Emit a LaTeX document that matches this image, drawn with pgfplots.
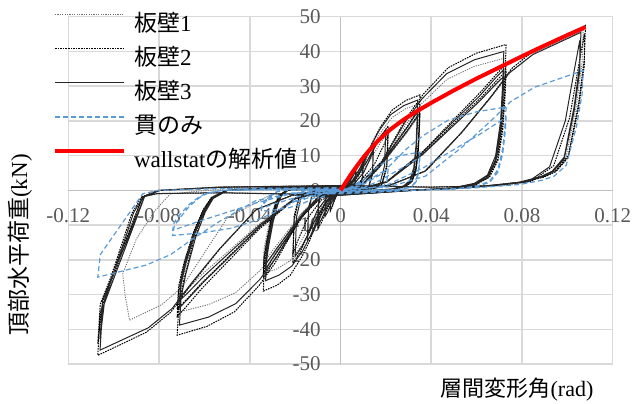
\documentclass[border=0pt]{standalone}
\usepackage{fontspec}
\setmainfont{Liberation Serif}
\newfontfamily\cjk{Noto Sans CJK JP}
\usepackage{pgfplots}
\pgfplotsset{compat=1.18}
\definecolor{tickgray}{HTML}{595959}
\definecolor{gridgray}{HTML}{D9D9D9}
\definecolor{axgray}{HTML}{BFBFBF}
\definecolor{blueline}{HTML}{5B9BD5}
\begin{document}
\begin{tikzpicture}
\path[use as bounding box] (0,0) rectangle (316pt,201.5pt);
\begin{axis}[
  at={(34.15pt,19.5pt)}, anchor=south west,
  scale only axis, width=272.2pt, height=173.65pt,
  xmin=-0.12, xmax=0.12, ymin=-50, ymax=50,
  axis lines=middle,
  every inner x axis line/.append style={-},
  every inner y axis line/.append style={-},
  axis line style={axgray, line width=0.75pt},
  hide obscured x ticks=false, hide obscured y ticks=false,
  xtick={-0.12,-0.08,-0.04,0,0.04,0.08,0.12},
  xticklabels={-0.12,-0.08,-0.04,0,0.04,0.08,0.12},
  ytick={-50,-40,-30,-20,-10,0,10,20,30,40,50},
  yticklabels={-50,-40,-30,-20,-10,0,10,20,30,40,50},
  major tick length=0pt,
  grid=major, grid style={gridgray, line width=0.75pt},
  tick label style={font=\fontsize{10.5}{12}\selectfont, text=tickgray, inner sep=0pt},
  xticklabel style={anchor=center, yshift=-12.5pt},
  yticklabel style={anchor=east, xshift=-9.75pt},
  legend style={at={(-0.0281,1.031)}, anchor=north west, draw=none, fill=none,
    font=\fontsize{11.5}{13}\selectfont, inner sep=0pt, outer sep=0pt,
    row sep=0pt, column sep=4pt,
    nodes={inner sep=0pt, text height=12.9pt, text depth=4.1pt}},
  legend cell align=left,
  legend image code/.code={\draw[#1] (0pt,4pt) -- (34.5pt,4pt);},
]
% 板壁1
\addplot[color=black!55, line width=0.45pt, dash pattern=on 0.6pt off 0.6pt] coordinates {
(0,0) (0.003,1.35) (0.006,4.5) (0.0085,7.65) (0.01,9) (0.0097,3.6) (0.0085,0.54) (0.005,0) (0,-0.27) (-0.003,-1.43) (-0.006,-4.75) (-0.0085,-8.1) (-0.01,-9.5) (-0.0097,-3.8) (-0.0085,-0.57) (-0.005,0) (0,0.29)
(0.0063,2.5) (0.0126,8.25) (0.0179,14) (0.021,16.5) (0.0204,6.6) (0.0179,1) (0.0105,0) (0,-0.5) (-0.0063,-2.7) (-0.0126,-9) (-0.0179,-15.3) (-0.021,-18) (-0.0204,-7.2) (-0.0179,-1.1) (-0.0105,0) (0,0.54)
(0.0042,1.25) (0.00875,5) (0.014,12.5) (0.0175,16.5) (0.02275,21) (0.0287,23.5) (0.035,25) (0.0348,20) (0.0343,12.5) (0.03325,6.25) (0.0315,2.75) (0.0287,1.25) (0.0238,0.38) (0.014,0) (0,-0.75) (-0.0041,-1.2) (-0.0085,-4.8) (-0.0136,-12) (-0.017,-15.8) (-0.0221,-20.2) (-0.0279,-22.6) (-0.034,-24) (-0.0337,-19.2) (-0.0326,-14.9) (-0.0306,-8.4) (-0.0286,-3.8) (-0.0269,-1.44) (-0.0238,0) (-0.0136,0.48) (0,0.72)
(0.00525,0.55) (0.0098,1.5) (0.0175,6.8) (0.0245,12.6) (0.02975,17) (0.03325,20.3) (0.035,21.8) (0.0348,17.4) (0.0343,10.9) (0.03325,5.45) (0.0315,2.4) (0.0287,1.1) (0.0238,0.33) (0.014,0) (0,-0.65) (-0.0051,-0.53) (-0.0095,-1.47) (-0.017,-6.5) (-0.0238,-12.2) (-0.0289,-16.4) (-0.0323,-19.5) (-0.034,-21) (-0.0337,-16.8) (-0.0326,-13) (-0.0306,-7.35) (-0.0286,-3.4) (-0.0269,-1.26) (-0.0238,0) (-0.0136,0.42) (0,0.63)
(0.0086,1.9) (0.018,7.6) (0.0288,19) (0.036,25.1) (0.0468,31.9) (0.059,35.7) (0.072,38) (0.0716,30.4) (0.0706,19) (0.0684,9.5) (0.0648,4.2) (0.059,1.9) (0.049,0.57) (0.0288,0) (0,-1.14) (-0.0085,-1.75) (-0.01775,-7) (-0.0284,-17.5) (-0.0355,-23.1) (-0.04615,-29.4) (-0.0582,-32.9) (-0.071,-35) (-0.0703,-28) (-0.0682,-21.7) (-0.0639,-12.25) (-0.0596,-5.6) (-0.0561,-2.1) (-0.0497,0) (-0.0284,0.7) (0,1.05)
(0.0108,0.83) (0.0202,2.3) (0.036,10.2) (0.0504,19.1) (0.0612,25.7) (0.0684,30.7) (0.072,33) (0.0716,26.4) (0.0706,16.5) (0.0684,8.25) (0.0648,3.6) (0.059,1.65) (0.049,0.5) (0.0288,0) (0,-1) (-0.01065,-0.76) (-0.0199,-2.1) (-0.0355,-9.5) (-0.0497,-17.7) (-0.06035,-23.8) (-0.06745,-28.4) (-0.071,-30.5) (-0.0703,-24.4) (-0.0682,-18.9) (-0.0639,-10.7) (-0.0596,-4.9) (-0.0561,-1.8) (-0.0497,0) (-0.0284,0.61) (0,0.92)
(0.0214,1.4) (0.03745,5.5) (0.0535,16.6) (0.0663,26.7) (0.0749,34) (0.0856,39.6) (0.0963,42.8) (0.107,46) (0.1065,36.8) (0.104,24.4) (0.0995,9.7) (0.0942,5.5) (0.0888,3.9) (0.0792,2.3) (0.0589,0.9) (0.0321,0) (0,-1.4) (-0.03,-1) (-0.05,-8) (-0.062,-20) (-0.07,-28) (-0.079,-33) (-0.087,-35.5) (-0.093,-37.4) (-0.095,-30) (-0.096,-24) (-0.09,-14) (-0.082,-6) (-0.075,-1) (-0.05,0.5) (0,1)
};
\addlegendentry{{\cjk 板壁}1}
% 板壁2
\addplot[color=black, line width=0.5pt, dash pattern=on 0.8pt off 0.5pt] coordinates {
(0,0) (0.00135,0.75) (0.0027,2.5) (0.0038,4.25) (0.0045,5) (0.0044,2) (0.0038,0.3) (0.0023,0) (0,-0.15) (-0.00135,-0.9) (-0.0027,-3) (-0.0038,-5.1) (-0.0045,-6) (-0.0044,-2.4) (-0.0038,-0.36) (-0.0023,0) (0,0.18)
(0.003,1.5) (0.006,5) (0.0085,8.5) (0.01,10) (0.0097,4) (0.0085,0.6) (0.005,0) (0,-0.3) (-0.003,-1.65) (-0.006,-5.5) (-0.0085,-9.35) (-0.01,-11) (-0.0097,-4.4) (-0.0085,-0.66) (-0.005,0) (0,0.33)
(0.004,1.3) (0.007,3.9) (0.009,7) (0.01,8.7) (0.0097,3.5) (0.0085,0.5) (0.005,0) (0,-0.26) (-0.004,-1.44) (-0.007,-4.3) (-0.009,-7.7) (-0.01,-9.6) (-0.0097,-3.8) (-0.0085,-0.6) (-0.005,0) (0,0.3)
(0.0063,2.8) (0.0126,9.25) (0.0179,15.7) (0.021,18.5) (0.0204,7.4) (0.0179,1.1) (0.0105,0) (0,-0.55) (-0.0063,-3.15) (-0.0126,-10.5) (-0.0179,-17.85) (-0.021,-21) (-0.0204,-8.4) (-0.0179,-1.26) (-0.0105,0) (0,0.63)
(0.0084,2.4) (0.0147,7.2) (0.0189,12.8) (0.021,16) (0.0204,6.4) (0.0179,1) (0.0105,0) (0,-0.5) (-0.0084,-2.75) (-0.0147,-8.2) (-0.0189,-14.6) (-0.021,-18.3) (-0.0204,-7.3) (-0.0179,-1.1) (-0.0105,0) (0,0.55)
(0.0042,1.4) (0.00875,5.5) (0.014,13.75) (0.0175,18.15) (0.02275,23.1) (0.0287,25.85) (0.035,27.5) (0.0348,22) (0.0343,13.75) (0.03325,6.9) (0.0315,3) (0.0287,1.4) (0.0238,0.4) (0.014,0) (0,-0.8) (-0.0041,-1.45) (-0.0085,-5.8) (-0.0136,-14.5) (-0.017,-19.1) (-0.0221,-24.4) (-0.0279,-27.3) (-0.034,-29) (-0.0337,-23.2) (-0.0326,-18) (-0.0306,-10.15) (-0.0286,-4.65) (-0.0269,-1.75) (-0.0238,0) (-0.0136,0.6) (0,0.9)
(0.00525,0.6) (0.0098,1.7) (0.0175,7.45) (0.0245,13.9) (0.02975,18.7) (0.03325,22.3) (0.035,24) (0.0348,19.2) (0.0343,12) (0.03325,6) (0.0315,2.65) (0.0287,1.2) (0.0238,0.36) (0.014,0) (0,-0.7) (-0.0051,-0.63) (-0.0095,-1.76) (-0.017,-7.8) (-0.0238,-14.6) (-0.0289,-19.7) (-0.0323,-23.4) (-0.034,-25.2) (-0.0337,-20.2) (-0.0326,-15.6) (-0.0306,-8.8) (-0.0286,-4) (-0.0269,-1.5) (-0.0238,0) (-0.0136,0.5) (0,0.75)
(0.00525,0.56) (0.0098,1.6) (0.0175,7) (0.0245,13) (0.02975,17.5) (0.03325,20.9) (0.035,22.5) (0.0348,18) (0.0343,11.25) (0.03325,5.6) (0.0315,2.5) (0.0287,1.1) (0.0238,0.34) (0.014,0) (0,-0.7) (-0.0051,-0.6) (-0.0095,-1.67) (-0.017,-7.4) (-0.0238,-13.8) (-0.0289,-18.6) (-0.0323,-22.1) (-0.034,-23.8) (-0.0337,-19) (-0.0326,-14.8) (-0.0306,-8.3) (-0.0286,-3.8) (-0.0269,-1.4) (-0.0238,0) (-0.0136,0.48) (0,0.71)
(0.00876,2.1) (0.01825,8.4) (0.0292,21) (0.0365,27.7) (0.04745,35.3) (0.05986,39.5) (0.073,42) (0.0726,33.6) (0.0715,21) (0.0694,10.5) (0.0657,4.6) (0.0599,2.1) (0.0496,0.63) (0.0292,0) (0,-1.26) (-0.00864,-2.1) (-0.018,-8.3) (-0.0288,-20.85) (-0.036,-27.5) (-0.0468,-35) (-0.059,-39.2) (-0.072,-41.7) (-0.0713,-33.4) (-0.0691,-25.9) (-0.0648,-14.6) (-0.0605,-6.7) (-0.0569,-2.5) (-0.0504,0) (-0.0288,0.83) (0,1.25)
(0.01095,0.9) (0.02044,2.55) (0.0365,11.3) (0.0511,21.2) (0.06205,28.5) (0.06935,33.9) (0.073,36.5) (0.0726,29.2) (0.0715,18.25) (0.0694,9.1) (0.0657,4) (0.0599,1.8) (0.0496,0.55) (0.0292,0) (0,-1.1) (-0.0108,-0.9) (-0.02016,-2.5) (-0.036,-11.25) (-0.0504,-21) (-0.0612,-28.3) (-0.0684,-33.8) (-0.072,-36.3) (-0.0713,-29) (-0.0691,-22.5) (-0.0648,-12.7) (-0.0605,-5.8) (-0.0569,-2.2) (-0.0504,0) (-0.0288,0.73) (0,1.1)
(0.01095,0.86) (0.02044,2.4) (0.0365,10.7) (0.0511,20) (0.06205,26.8) (0.06935,32) (0.073,34.4) (0.0726,27.5) (0.0715,17.2) (0.0694,8.6) (0.0657,3.8) (0.0599,1.7) (0.0496,0.5) (0.0292,0) (0,-1) (-0.0108,-0.86) (-0.02016,-2.4) (-0.036,-10.6) (-0.0504,-19.8) (-0.0612,-26.7) (-0.0684,-31.8) (-0.072,-34.2) (-0.0713,-27.4) (-0.0691,-21.2) (-0.0648,-12) (-0.0605,-5.5) (-0.0569,-2) (-0.0504,0) (-0.0288,0.68) (0,1)
(0.0216,1.4) (0.0378,5.7) (0.054,17.1) (0.067,27.55) (0.0756,35.15) (0.0864,40.85) (0.0972,44.2) (0.108,47.5) (0.1075,38) (0.105,25.2) (0.1004,10) (0.095,5.7) (0.0896,4) (0.0799,2.4) (0.0594,0.95) (0.0324,0) (0,-1.4) (-0.0214,-1.4) (-0.03745,-5.7) (-0.0535,-17.1) (-0.0663,-27.55) (-0.0749,-35.15) (-0.0856,-40.85) (-0.0963,-44.2) (-0.107,-47.5) (-0.1059,-35.15) (-0.1011,-26.6) (-0.0963,-18) (-0.0915,-9.5) (-0.0872,-1.9) (-0.0803,0) (-0.0535,0.95) (0,1.4)
(0.04,0.95) (0.0702,1.4) (0.0842,2.6) (0.094,7.1) (0.101,20.9) (0.1048,35.15) (0.1075,45.1) (0.1075,36) (0.105,23.9) (0.1004,9.5) (0.095,5.4) (0.0896,3.8) (0.0799,2.25) (0.0594,0.9) (0.0324,0) (0,-1.35) (-0.0535,-0.7) (-0.0813,-0.95) (-0.0877,-1.9) (-0.092,-6.65) (-0.0958,-14.25) (-0.1006,-23.75) (-0.1049,-32.3) (-0.107,-44.2) (-0.1059,-32.7) (-0.1011,-24.75) (-0.0963,-16.8) (-0.0915,-8.85) (-0.0872,-1.77) (-0.0803,0) (-0.0535,0.9) (0,1.3)
};
\addlegendentry{{\cjk 板壁}2}
% 板壁3
\addplot[color=black!85, line width=0.5pt] coordinates {
(0,0) (0.00135,0.68) (0.0027,2.25) (0.0038,3.8) (0.0045,4.5) (0.0044,1.8) (0.0038,0.27) (0.0023,0) (0,-0.14) (-0.00135,-0.83) (-0.0027,-2.75) (-0.0038,-4.7) (-0.0045,-5.5) (-0.0044,-2.2) (-0.0038,-0.33) (-0.0023,0) (0,0.17)
(0.002,1) (0.0041,3.25) (0.0058,5.5) (0.0068,6.5) (0.0066,2.6) (0.0058,0.4) (0.0034,0) (0,-0.2) (-0.002,-1.1) (-0.0041,-3.75) (-0.0058,-6.4) (-0.0068,-7.5) (-0.0066,-3) (-0.0058,-0.45) (-0.0034,0) (0,0.22)
(0.003,1.43) (0.006,4.75) (0.0085,8.1) (0.01,9.5) (0.0097,3.8) (0.0085,0.57) (0.005,0) (0,-0.29) (-0.003,-1.5) (-0.006,-5) (-0.0085,-8.5) (-0.01,-10) (-0.0097,-4) (-0.0085,-0.6) (-0.005,0) (0,0.3)
(0.0044,1.95) (0.0087,6.5) (0.0123,11) (0.0145,13) (0.0141,5.2) (0.0123,0.8) (0.0073,0) (0,-0.4) (-0.0044,-2.2) (-0.0087,-7.25) (-0.0123,-12.3) (-0.0145,-14.5) (-0.0141,-5.8) (-0.0123,-0.87) (-0.0073,0) (0,0.43)
(0.0058,1.7) (0.0102,5.1) (0.013,9) (0.0145,11.3) (0.0141,4.5) (0.0123,0.7) (0.0073,0) (0,-0.34) (-0.0058,-1.9) (-0.0102,-5.7) (-0.013,-10.1) (-0.0145,-12.6) (-0.0141,-5) (-0.0123,-0.76) (-0.0073,0) (0,0.38)
(0.006,2.6) (0.012,8.75) (0.017,14.9) (0.02,17.5) (0.0194,7) (0.017,1.05) (0.01,0) (0,-0.5) (-0.006,-2.85) (-0.012,-9.5) (-0.017,-16.15) (-0.02,-19) (-0.0194,-7.6) (-0.017,-1.14) (-0.01,0) (0,0.57)
(0.0041,1.3) (0.0085,5.2) (0.0136,13) (0.017,17.2) (0.0221,21.8) (0.0279,24.4) (0.034,26) (0.0338,20.8) (0.0333,13) (0.0323,6.5) (0.0306,2.9) (0.0279,1.3) (0.0231,0.4) (0.0136,0) (0,-0.8) (-0.004,-1.3) (-0.00825,-5.2) (-0.0132,-13) (-0.0165,-17.2) (-0.02145,-21.8) (-0.0271,-24.4) (-0.033,-26) (-0.0327,-20.8) (-0.0317,-16.1) (-0.0297,-9.1) (-0.0277,-4.2) (-0.0261,-1.6) (-0.0231,0) (-0.0132,0.5) (0,0.8)
(0.0051,0.57) (0.0095,1.6) (0.017,7) (0.0238,13.1) (0.0289,17.6) (0.0323,21) (0.034,22.6) (0.0338,18.1) (0.0333,11.3) (0.0323,5.65) (0.0306,2.5) (0.0279,1.1) (0.0231,0.34) (0.0136,0) (0,-0.68) (-0.005,-0.57) (-0.0092,-1.6) (-0.0165,-7) (-0.0231,-13.1) (-0.028,-17.6) (-0.0314,-21) (-0.033,-22.6) (-0.0327,-18.1) (-0.0317,-14) (-0.0297,-7.9) (-0.0277,-3.6) (-0.0261,-1.36) (-0.0231,0) (-0.0132,0.45) (0,0.68)
(0.0051,0.53) (0.0095,1.5) (0.017,6.6) (0.0238,12.35) (0.0289,16.6) (0.0323,19.8) (0.034,21.3) (0.0338,17) (0.0333,10.65) (0.0323,5.3) (0.0306,2.3) (0.0279,1.07) (0.0231,0.32) (0.0136,0) (0,-0.64) (-0.005,-0.53) (-0.0092,-1.5) (-0.0165,-6.6) (-0.0231,-12.35) (-0.028,-16.6) (-0.0314,-19.8) (-0.033,-21.3) (-0.0327,-17) (-0.0317,-13.2) (-0.0297,-7.5) (-0.0277,-3.4) (-0.0261,-1.3) (-0.0231,0) (-0.0132,0.43) (0,0.64)
(0.0086,2) (0.018,8) (0.0288,20) (0.036,26.4) (0.0468,33.6) (0.059,37.6) (0.072,40) (0.0716,32) (0.0706,20) (0.0684,10) (0.0648,4.4) (0.059,2) (0.049,0.6) (0.0288,0) (0,-1.2) (-0.0085,-1.94) (-0.01775,-7.76) (-0.0284,-19.4) (-0.0355,-25.6) (-0.04615,-32.6) (-0.0582,-36.5) (-0.071,-38.8) (-0.0703,-31) (-0.0682,-24.1) (-0.0639,-13.6) (-0.0596,-6.2) (-0.0561,-2.3) (-0.0497,0) (-0.0284,0.78) (0,1.16)
(0.0108,0.87) (0.0202,2.4) (0.036,10.8) (0.0504,20.2) (0.0612,27.1) (0.0684,32.4) (0.072,34.8) (0.0716,27.8) (0.0706,17.4) (0.0684,8.7) (0.0648,3.8) (0.059,1.74) (0.049,0.52) (0.0288,0) (0,-1.04) (-0.01065,-0.85) (-0.0199,-2.37) (-0.0355,-10.5) (-0.0497,-19.6) (-0.06035,-26.4) (-0.06745,-31.4) (-0.071,-33.8) (-0.0703,-27) (-0.0682,-21) (-0.0639,-11.8) (-0.0596,-5.4) (-0.0561,-2) (-0.0497,0) (-0.0284,0.68) (0,1)
(0.0108,0.82) (0.0202,2.3) (0.036,10.2) (0.0504,19) (0.0612,25.6) (0.0684,30.5) (0.072,32.8) (0.0716,26.2) (0.0706,16.4) (0.0684,8.2) (0.0648,3.6) (0.059,1.64) (0.049,0.5) (0.0288,0) (0,-1) (-0.01065,-0.8) (-0.0199,-2.2) (-0.0355,-9.9) (-0.0497,-18.4) (-0.06035,-24.8) (-0.06745,-29.6) (-0.071,-31.8) (-0.0703,-25.4) (-0.0682,-19.7) (-0.0639,-11.1) (-0.0596,-5.1) (-0.0561,-1.9) (-0.0497,0) (-0.0284,0.64) (0,0.95)
(0.0212,1.37) (0.0371,5.46) (0.053,16.4) (0.0657,26.4) (0.0742,33.7) (0.0848,39.1) (0.0954,42.3) (0.106,45.5) (0.1055,36.4) (0.103,24.1) (0.0986,9.55) (0.0933,5.5) (0.088,3.9) (0.0784,2.3) (0.0583,0.9) (0.0318,0) (0,-1.37) (-0.0212,-1.4) (-0.0371,-5.5) (-0.053,-16.6) (-0.0657,-26.7) (-0.0742,-34) (-0.0848,-39.6) (-0.0954,-42.8) (-0.106,-46) (-0.1049,-34) (-0.1002,-25.8) (-0.0954,-17.5) (-0.0906,-9.2) (-0.0864,-1.84) (-0.0795,0) (-0.053,0.92) (0,1.38)
(0.0392,0.9) (0.0689,1.37) (0.0827,2.5) (0.0922,6.8) (0.0991,20) (0.1028,33.7) (0.1055,43.2) (0.1055,34.4) (0.103,22.8) (0.0986,9) (0.0933,5.2) (0.088,3.7) (0.0784,2.15) (0.0583,0.86) (0.0318,0) (0,-1.3) (-0.053,-0.69) (-0.0806,-0.92) (-0.0869,-1.84) (-0.0912,-6.4) (-0.0949,-13.8) (-0.0996,-23) (-0.1039,-31.3) (-0.106,-42.8) (-0.1049,-31.7) (-0.1002,-24) (-0.0954,-16.3) (-0.0906,-8.6) (-0.0864,-1.7) (-0.0795,0) (-0.053,0.86) (0,1.28)
};
\addlegendentry{{\cjk 板壁}3}
% 貫のみ
\addplot[color=blueline, line width=0.6pt, dash pattern=on 2.5pt off 1.5pt] coordinates {
(0,0) (0.003,0.45) (0.006,1.5) (0.0085,2.55) (0.01,3) (0.0097,1.2) (0.0085,0.18) (0.005,0) (0,-0.09) (-0.003,-0.38) (-0.006,-1.25) (-0.0085,-2.1) (-0.01,-2.5) (-0.0097,-1) (-0.0085,-0.15) (-0.005,0) (0,0.08)
(0.0063,0.9) (0.0126,3) (0.0179,5.1) (0.021,6) (0.0204,2.4) (0.0179,0.36) (0.0105,0) (0,-0.18) (-0.0063,-0.5) (-0.0126,-1.75) (-0.0179,-3) (-0.021,-3.5) (-0.0204,-1.4) (-0.0179,-0.2) (-0.0105,0) (0,0.1)
(0.0042,0.55) (0.00875,2.2) (0.014,5.5) (0.0175,7.3) (0.02275,9.2) (0.0287,10.3) (0.035,11) (0.0348,8.8) (0.0343,5.5) (0.03325,2.75) (0.0315,1.2) (0.0287,0.55) (0.0238,0.17) (0.014,0) (0,-0.33) (-0.0042,-0.3) (-0.00875,-1.2) (-0.014,-3) (-0.0175,-4) (-0.02275,-5) (-0.0287,-5.6) (-0.035,-6) (-0.0347,-4.8) (-0.0336,-3.7) (-0.0315,-2.1) (-0.0294,-1) (-0.0277,-0.36) (-0.0245,0) (-0.014,0.12) (0,0.18)
(0.00525,0.24) (0.0098,0.67) (0.0175,2.9) (0.0245,5.5) (0.02975,7.4) (0.03325,8.8) (0.035,9.5) (0.0348,7.6) (0.0343,4.75) (0.03325,2.4) (0.0315,1) (0.0287,0.48) (0.0238,0.14) (0.014,0) (0,-0.3) (-0.00525,-0.13) (-0.0098,-0.36) (-0.0175,-1.6) (-0.0245,-3) (-0.02975,-4) (-0.03325,-4.8) (-0.035,-5.2) (-0.0347,-4.2) (-0.0336,-3.2) (-0.0315,-1.8) (-0.0294,-0.8) (-0.0277,-0.3) (-0.0245,0) (-0.014,0.1) (0,0.16)
(0.00876,1.2) (0.01825,4.8) (0.0292,12) (0.0365,15.8) (0.04745,20.2) (0.05986,22.6) (0.073,24) (0.0726,19.2) (0.0715,12) (0.0694,6) (0.0657,2.6) (0.0599,1.2) (0.0496,0.36) (0.0292,0) (0,-0.72) (-0.0089,-0.65) (-0.0185,-2.6) (-0.0296,-6.5) (-0.037,-8.6) (-0.0481,-10.9) (-0.0607,-12.2) (-0.074,-13) (-0.0733,-10.4) (-0.071,-8.1) (-0.0666,-4.55) (-0.0622,-2.1) (-0.0585,-0.8) (-0.0518,0) (-0.0296,0.26) (0,0.4)
(0.01095,0.5) (0.02044,1.5) (0.0365,6.5) (0.0511,12.2) (0.06205,16.4) (0.06935,19.5) (0.073,21) (0.0726,16.8) (0.0715,10.5) (0.0694,5.25) (0.0657,2.3) (0.0599,1.05) (0.0496,0.3) (0.0292,0) (0,-0.63) (-0.0111,-0.3) (-0.0207,-0.8) (-0.037,-3.6) (-0.0518,-6.7) (-0.0629,-9) (-0.0703,-10.7) (-0.074,-11.5) (-0.0733,-9.2) (-0.071,-7.1) (-0.0666,-4) (-0.0622,-1.8) (-0.0585,-0.7) (-0.0518,0) (-0.0296,0.23) (0,0.35)
(0.0214,1) (0.03745,4.1) (0.0535,12.4) (0.0663,20) (0.0749,25.5) (0.0856,29.7) (0.0963,32.1) (0.107,34.5) (0.1065,27.6) (0.104,18.3) (0.0995,7.2) (0.0942,4.1) (0.0888,2.9) (0.0792,1.7) (0.0589,0.7) (0.0321,0) (0,-1) (-0.0214,-0.75) (-0.03745,-3) (-0.0535,-9) (-0.0663,-14.5) (-0.0749,-18.5) (-0.0856,-21.5) (-0.0963,-23.25) (-0.107,-25) (-0.1059,-18.5) (-0.1011,-14) (-0.0963,-9.5) (-0.0915,-5) (-0.0872,-1) (-0.0803,0) (-0.0535,0.5) (0,0.75)
};
\addlegendentry{{\cjk 貫のみ}}
% wallstat
\addplot[color=red, line width=2pt, line join=round] coordinates {
(0,0) (0.002,2) (0.004,4) (0.006,5.9) (0.008,7.7) (0.01,9.4) (0.012,11) (0.014,12.5) (0.016,13.9) (0.018,15.2) (0.02,16.4) (0.0225,17.8) (0.025,19) (0.0275,20.2) (0.03,21.3) (0.035,23.3) (0.04,25.2) (0.045,27) (0.05,28.8) (0.055,30.5) (0.06,32.2) (0.065,33.8) (0.07,35.4) (0.075,37) (0.08,38.6) (0.087,40.8) (0.094,42.9) (0.101,45) (0.108,47)
};
\addlegendentry{wallstat{\cjk の解析値}}
\end{axis}
\node[font=\fontsize{11}{13}\selectfont] at (258.5pt,6.5pt) {{\cjk 層間変形角}(rad)};
\node[rotate=90, font=\fontsize{11.5}{13}\selectfont] at (10pt,79pt) {{\cjk 頂部水平荷重}(kN)};
\end{tikzpicture}
\end{document}
